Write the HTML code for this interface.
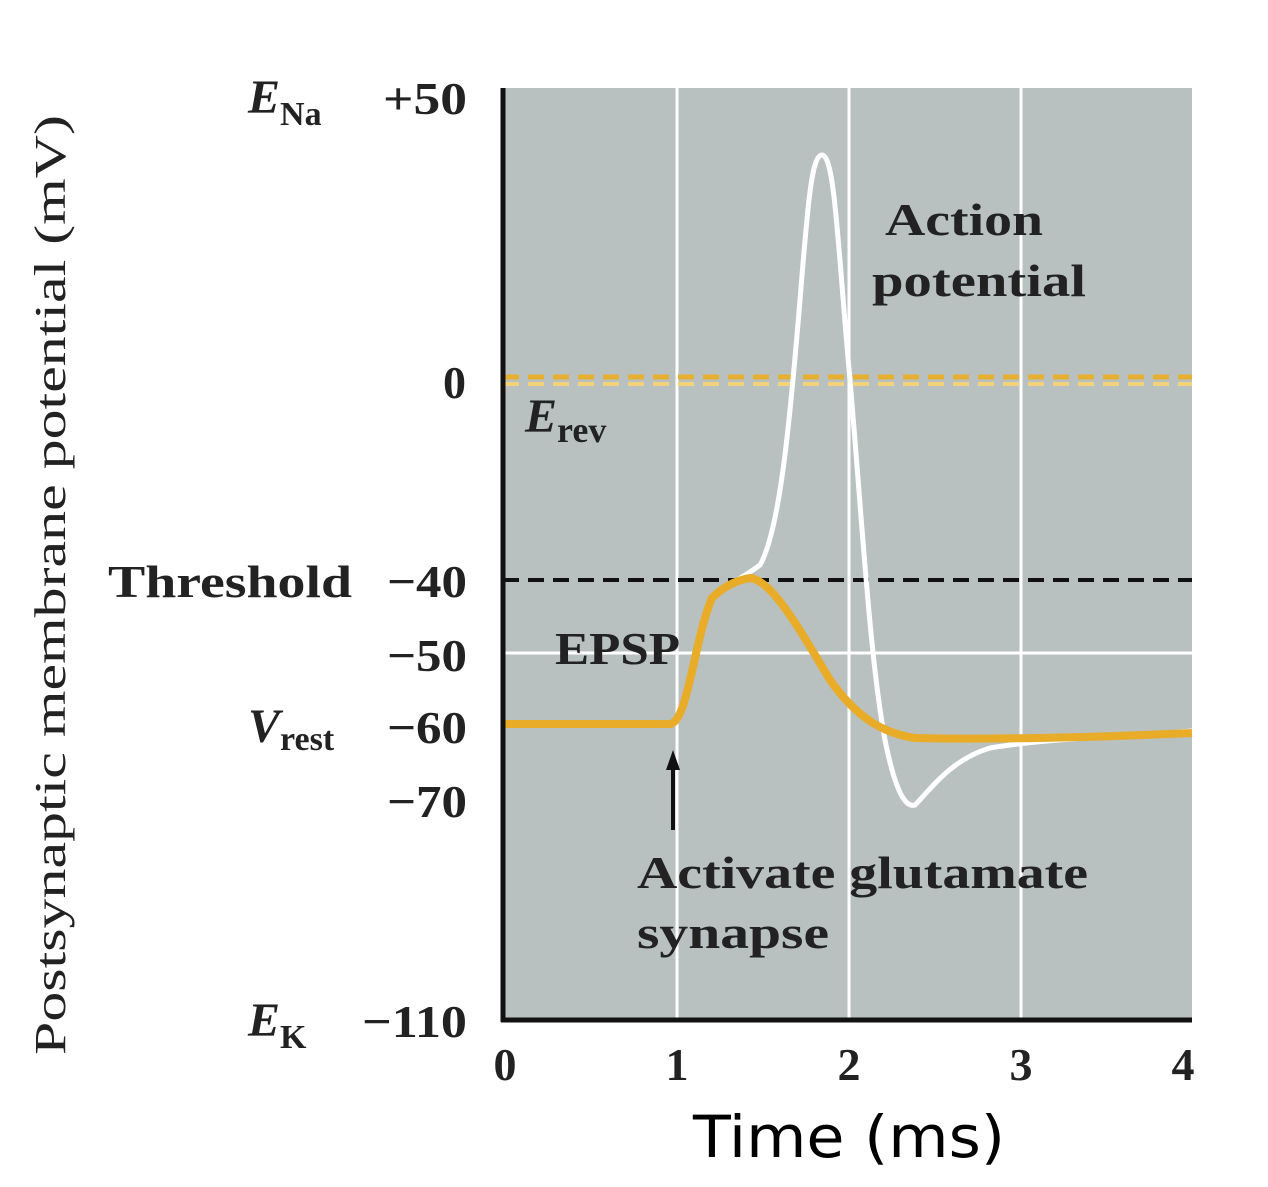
<!DOCTYPE html>
<html><head><style>body{margin:0;background:#fff}svg{display:block}</style></head><body>
<svg width="1268" height="1187" xmlns="http://www.w3.org/2000/svg">
<rect x="503" y="88" width="689" height="932" fill="#b9c0c0"/>
<g stroke="#fff" stroke-width="3">
<line x1="677" y1="88" x2="677" y2="1020"/><line x1="849" y1="88" x2="849" y2="1020"/><line x1="1021" y1="88" x2="1021" y2="1020"/>
<line x1="503" y1="653" x2="1192" y2="653"/>
</g>
<line x1="503" y1="580" x2="1192" y2="580" stroke="#111" stroke-width="4" stroke-dasharray="16,9"/>
<line x1="503" y1="377" x2="1192" y2="377" stroke="#e8b030" stroke-width="5" stroke-dasharray="16,9"/>
<line x1="503" y1="384" x2="1192" y2="384" stroke="#f3d27a" stroke-width="4" stroke-dasharray="16,9"/>
<path d="M505,725 L670,725 C690,720 695,640 712,600 C725,585 740,580 760,565 C780,530 790,420 800,300 C808,200 812,155 822,155 C835,155 838,250 850,380 C862,520 870,660 885,740 C895,790 905,808 915,805 C930,790 950,760 990,748 C1050,738 1120,737 1192,731" fill="none" stroke="#fff" stroke-width="5"/>
<path d="M505,724 L670,724 C688,722 694,640 712,598 C725,585 738,580 750,578 C772,580 800,630 830,680 C855,715 880,733 915,738 C1000,740 1100,737 1192,733" fill="none" stroke="#e8ac28" stroke-width="8"/>
<line x1="503" y1="88" x2="503" y2="1022" stroke="#111" stroke-width="5"/>
<line x1="501" y1="1020" x2="1192" y2="1020" stroke="#111" stroke-width="5"/>
<line x1="673" y1="830" x2="673" y2="765" stroke="#111" stroke-width="4"/>
<polygon points="673,750 666,770 680,770" fill="#111"/>
<g font-family="Liberation Serif, serif" font-weight="bold" fill="#222" font-size="46" lengthAdjust="spacingAndGlyphs">
<text x="383" y="114" textLength="84" lengthAdjust="spacingAndGlyphs">+50</text>
<text x="443" y="398">0</text>
<text x="387" y="597" textLength="80" lengthAdjust="spacingAndGlyphs">−40</text>
<text x="387" y="671" textLength="80" lengthAdjust="spacingAndGlyphs">−50</text>
<text x="387" y="743" textLength="80" lengthAdjust="spacingAndGlyphs">−60</text>
<text x="387" y="817" textLength="80" lengthAdjust="spacingAndGlyphs">−70</text>
<text x="362" y="1037" textLength="105" lengthAdjust="spacingAndGlyphs">−110</text>
<text x="108" y="597" textLength="244" lengthAdjust="spacingAndGlyphs">Threshold</text>
<text x="248" y="113" font-style="italic" font-size="48">E<tspan font-style="normal" font-size="34" dy="12">Na</tspan></text>
<text x="248" y="1036" font-style="italic" font-size="48">E<tspan font-style="normal" font-size="34" dy="12">K</tspan></text>
<text x="248" y="742" font-style="italic" font-size="48">V<tspan font-style="normal" font-size="34" dy="8">rest</tspan></text>
<text x="525" y="432" font-style="italic" font-size="48">E<tspan font-style="normal" font-size="36" dy="10">rev</tspan></text>
<text x="555" y="664" textLength="125" lengthAdjust="spacingAndGlyphs">EPSP</text>
<text x="885" y="235" textLength="158" lengthAdjust="spacingAndGlyphs">Action</text>
<text x="872" y="296" textLength="214" lengthAdjust="spacingAndGlyphs">potential</text>
<text x="637" y="888" textLength="451" lengthAdjust="spacingAndGlyphs">Activate glutamate</text>
<text x="637" y="948" textLength="192" lengthAdjust="spacingAndGlyphs">synapse</text>
<text x="505" y="1080" text-anchor="middle">0</text>
<text x="677" y="1080" text-anchor="middle">1</text>
<text x="849" y="1080" text-anchor="middle">2</text>
<text x="1021" y="1080" text-anchor="middle">3</text>
<text x="1183" y="1080" text-anchor="middle">4</text>
</g>
<text transform="translate(65,1055) rotate(-90)" font-family="Liberation Serif, serif" font-size="44" fill="#222" textLength="940" lengthAdjust="spacingAndGlyphs">Postsynaptic membrane potential (mV)</text>
<text x="693" y="1157" font-family="DejaVu Sans, sans-serif" font-size="58" fill="#000" textLength="312" lengthAdjust="spacingAndGlyphs">Time (ms)</text>
</svg>
</body></html>
